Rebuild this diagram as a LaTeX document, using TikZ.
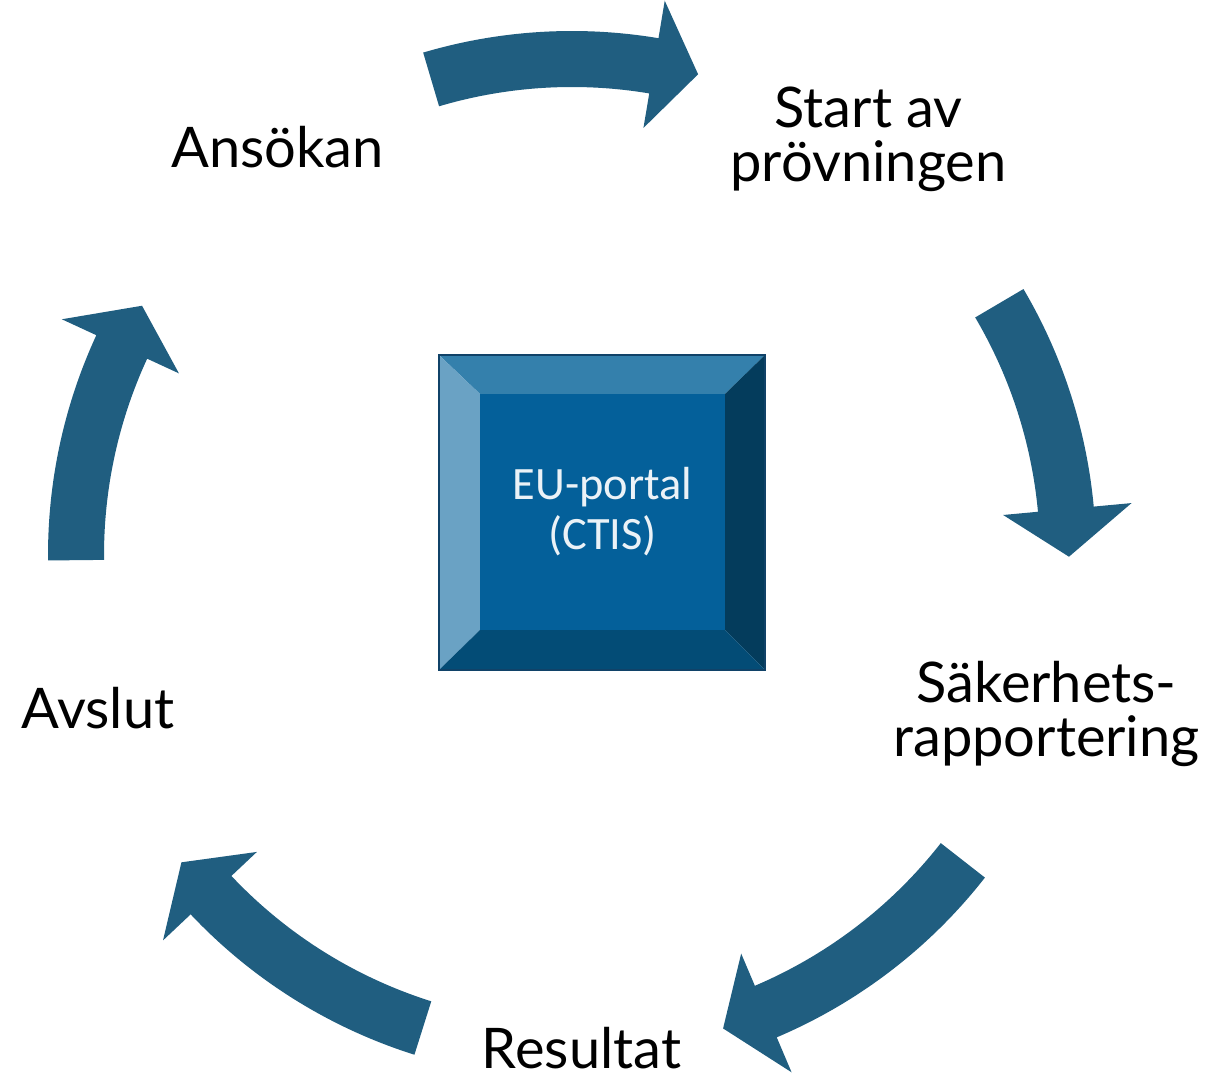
\documentclass[tikz,border=0pt]{standalone}
\usepackage{fontspec}
\setmainfont{Lato}
\newfontfamily\calibrifont{Carlito}
\definecolor{arrowblue}{RGB}{32,94,128}
\definecolor{faceblue}{RGB}{4,96,154}
\definecolor{toplight}{RGB}{52,128,172}
\definecolor{leftlight}{RGB}{106,162,196}
\definecolor{rightdark}{RGB}{4,60,92}
\definecolor{bottomdark}{RGB}{3,76,118}
\definecolor{rimblue}{RGB}{16,66,104}

\begin{document}
\begin{tikzpicture}[x=0.5pt,y=0.5pt,
  cyclearrow/.style={fill=arrowblue},
  steplabel/.style={font=\fontsize{28}{27}\selectfont, anchor=base, inner sep=0pt},
  portaltext/.style={font=\calibrifont\fontsize{23.2}{25}\selectfont, text=white!92!faceblue, align=center, anchor=base, inner sep=0pt}]
\useasboundingbox (-572,-524) rectangle (635,555);
% cycle arrows
\fill [cyclearrow] (106.5:524) arc [start angle=106.5, end angle=80.5, radius=262pt] -- (80.5:562) -- (75.3:497) -- (80.5:433) -- (80.5:468) arc [start angle=80.5, end angle=106.5, radius=234pt] -- cycle;
\fill [cyclearrow] (30.5:524) arc [start angle=30.5, end angle=5.3, radius=262pt] -- (5.3:562) -- (-0.2:497) -- (5.3:433) -- (5.3:468) arc [start angle=5.3, end angle=30.5, radius=234pt] -- cycle;
\fill [cyclearrow] (-38:524) arc [start angle=-38, end angle=-67, radius=262pt] -- (-67:562) -- (-72.3:497) -- (-67:433) -- (-67:468) arc [start angle=-67, end angle=-38, radius=234pt] -- cycle;
\fill [cyclearrow] (-107.5:524) arc [start angle=-107.5, end angle=-136.7, radius=262pt] -- (-136.7:562) -- (-141.8:497) -- (-136.7:433) -- (-136.7:468) arc [start angle=-136.7, end angle=-107.5, radius=234pt] -- cycle;
\fill [cyclearrow] (180.6:524) arc [start angle=180.6, end angle=155.2, radius=262pt] -- (155.2:562) -- (149.9:497) -- (155.2:433) -- (155.2:468) arc [start angle=155.2, end angle=180.6, radius=234pt] -- cycle;
% bevelled box
\fill [toplight] (-133,200) -- (193,200) -- (153,161) -- (-92,161) -- cycle;
\fill [leftlight] (-133,200) -- (-92,161) -- (-92,-75) -- (-133,-115) -- cycle;
\fill [rightdark] (193,200) -- (193,-115) -- (153,-75) -- (153,161) -- cycle;
\fill [bottomdark] (-133,-115) -- (-92,-75) -- (153,-75) -- (193,-115) -- cycle;
\fill [faceblue] (-92,161) rectangle (153,-75);
\draw [rimblue, line width=1pt] (-133,200) rectangle (193,-115);
\node (portal) [portaltext] at (30.5,5) {EU-portal\\(CTIS)};
% labels
\node (ansokan) [steplabel] at (-294.5,387) {Ansökan};
\node (start) [steplabel, align=center] at (296.5,373) {Start av\\prövningen};
\node (sakerhet) [steplabel, align=center] at (474.5,-202) {Säkerhets-\\rapportering};
\node (resultat) [steplabel] at (9.5,-514) {Resultat};
\node (avslut) [steplabel] at (-474,-174) {Avslut};
\end{tikzpicture}
\end{document}
